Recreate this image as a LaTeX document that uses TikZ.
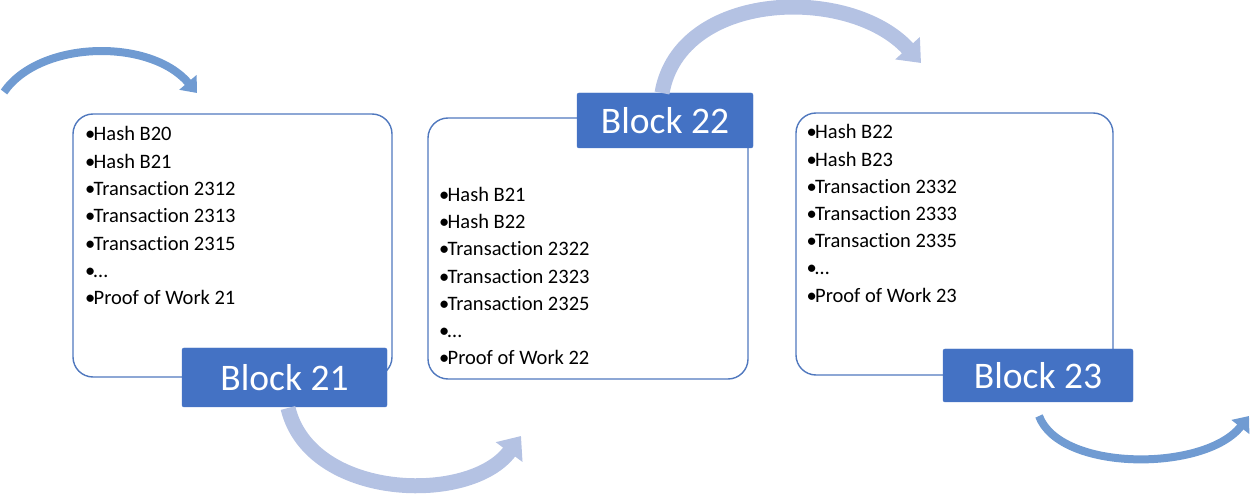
\documentclass[tikz,border=0pt]{standalone}
\usepackage{fontspec}
\setmainfont[Ligatures=NoCommon]{Carlito}
\usetikzlibrary{arrows.meta}
\definecolor{boxblue}{RGB}{80,120,190}
\definecolor{lblblue}{RGB}{68,114,196}
\definecolor{arrlav}{RGB}{180,194,227}
\definecolor{arrblue}{RGB}{112,155,210}
\tikzset{
  blockbox/.style={draw=boxblue, line width=1.4pt, rounded corners=20pt, inner sep=0pt},
  blocklbl/.style={fill=lblblue, draw=lblblue, rounded corners=2pt, text=white, inner sep=0pt,
    font=\fontsize{37.5}{40}\selectfont},
  item/.style={anchor=base west, inner sep=0pt, text=black, font=\fontsize{20.5}{24}\selectfont},
  bigarrow/.style={draw=arrlav, line width=15pt, -{Triangle[length=20pt,width=32pt]}},
  smallarrow/.style={draw=arrblue, line width=8pt, -{Triangle[length=14pt,width=22pt]}}
}
\newcommand{\bul}{\makebox[8.5pt][l]{•}}
\begin{document}
\begin{tikzpicture}[x=1pt,y=-1pt]
\useasboundingbox (0,0) rectangle (1254,494);

% content boxes
\node[blockbox, minimum width=319pt, minimum height=263pt] (box21) at (232.5,245.5) {};
\node[blockbox, minimum width=320pt, minimum height=261pt] (box22) at (588,248.5) {};
\node[blockbox, minimum width=317pt, minimum height=262pt] (box23) at (954.5,244) {};

% items block 21
\foreach \t [count=\i from 0] in {Hash B20,Hash B21,Transaction 2312,Transaction 2313,Transaction 2315,\ldots,Proof of Work 21}
  \node[item] (a\i) at (85,141+27.3*\i) {\bul\t};
% items block 22
\foreach \t [count=\i from 0] in {Hash B21,Hash B22,Transaction 2322,Transaction 2323,Transaction 2325,\ldots,Proof of Work 22}
  \node[item] (b\i) at (439,201.6+27.2*\i) {\bul\t};
% items block 23
\foreach \t [count=\i from 0] in {Hash B22,Hash B23,Transaction 2332,Transaction 2333,Transaction 2335,\ldots,Proof of Work 23}
  \node[item] (c\i) at (806.5,139+27.2*\i) {\bul\t};

% labels
\node[blocklbl, minimum width=205pt, minimum height=59pt] (lbl21) at (284.5,377.5) {Block 21};
\node[blocklbl, minimum width=176pt, minimum height=55pt] (lbl22) at (665,120.5) {Block 22};
\node[blocklbl, minimum width=190pt, minimum height=53pt] (lbl23) at (1038,375.5) {Block 23};

% arrow end points
\coordinate (s1) at (4,92);
\coordinate (e1) at (197,93);
\coordinate (s2) at (288,408);
\coordinate (e2) at (521,436);
\coordinate (s3) at (662,93);
\coordinate (e3) at (921,63);
\coordinate (s4) at (1039,416);
\coordinate (e4) at (1249,416);

\draw[smallarrow] (s1) .. controls (40,40) and (150,38) .. (e1);
\draw[bigarrow] (s2) .. controls (310,500) and (470,505) .. (e2);
\draw[bigarrow] (s3) .. controls (680,-10) and (850,-15) .. (e3);
\draw[smallarrow] (s4) .. controls (1060,472) and (1205,472) .. (e4);
\end{tikzpicture}
\end{document}
